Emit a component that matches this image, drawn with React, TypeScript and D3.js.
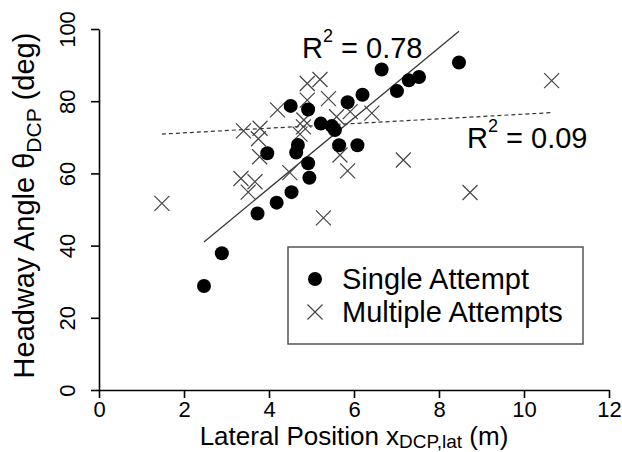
import React, { useRef, useEffect } from 'react';
import * as d3 from 'd3';

// single attempt (filled circles)
const singleX = [2.47, 2.89, 3.73, 4.18, 4.53, 4.95, 4.92, 3.96, 4.68, 4.64, 4.51, 4.92, 5.22, 5.48, 5.55, 5.65, 6.08, 5.85, 6.2, 6.65, 7.01, 7.29, 7.53, 8.47];
const singleY = [28.8, 37.9, 48.9, 51.9, 54.8, 58.8, 62.8, 65.6, 67.9, 65.8, 78.7, 77.7, 73.8, 73.1, 72.0, 67.8, 67.8, 79.7, 81.8, 88.8, 82.8, 85.8, 86.7, 90.7];

// multiple attempts (crosses)
const multiX = [1.48, 3.34, 3.67, 3.51, 3.78, 3.4, 3.79, 3.75, 4.2, 4.9, 5.2, 4.9, 5.4, 4.82, 4.81, 4.73, 4.49, 5.28, 5.67, 5.85, 5.59, 5.91, 6.42, 7.16, 8.73, 10.65];
const multiY = [51.7, 58.6, 57.7, 54.8, 64.6, 71.8, 72.5, 69.6, 77.6, 84.9, 86.0, 80.3, 80.7, 74.8, 72.9, 70.9, 60.2, 47.7, 65.1, 60.7, 75.7, 77.1, 76.7, 63.7, 54.7, 85.7];

// regression fits [intercept, slope]
const singleFit = [16.97, 9.73];
const multiFit = [69.93, 0.648];
const singleR2 = '0.78';
const multiR2 = '0.09';

const xTicks = [0, 2, 4, 6, 8, 10, 12];
const yTicks = [0, 20, 40, 60, 80, 100];
const legendLabels = ['Single Attempt', 'Multiple Attempts'];

const FONT = '"Liberation Sans", Arial, Helvetica, sans-serif';

const App = () => {
  const svgRef = useRef(null);

  useEffect(() => {
    const width = 622;
    const height = 452;
    const svg = d3.select(svgRef.current)
      .attr('width', width)
      .attr('height', height)
      .style('font-family', FONT);
    svg.selectAll('*').remove();

    const x = d3.scaleLinear().domain([0, 12]).range([99, 609]);
    const y = d3.scaleLinear().domain([0, 100]).range([390, 29]);

    // axes
    const xAxis = svg.append('g')
      .attr('transform', `translate(0, ${y(0)})`)
      .call(d3.axisBottom(x).tickValues(xTicks).tickSize(8).tickSizeOuter(0).tickFormat(d3.format('d')));
    const yAxis = svg.append('g')
      .attr('transform', `translate(${x(0)}, 0)`)
      .call(d3.axisLeft(y).tickValues(yTicks).tickSize(8).tickSizeOuter(0).tickFormat(d3.format('d')));

    [xAxis, yAxis].map((axis) => {
      axis.select('.domain').attr('stroke', '#000').attr('stroke-width', 1.6);
      axis.selectAll('.tick line').attr('stroke', '#000').attr('stroke-width', 1.6);
      axis.selectAll('.tick text')
        .attr('fill', '#000')
        .style('font-size', '22px')
        .style('font-family', FONT);
    });

    xAxis.selectAll('.tick text').attr('y', 27).attr('dy', 0);
    yAxis.selectAll('.tick text')
      .attr('transform', 'rotate(-90)')
      .attr('x', 0)
      .attr('y', -24)
      .attr('dy', 0)
      .attr('text-anchor', 'middle');

    // axis titles
    const xt = svg.append('text')
      .attr('x', (x(0) + x(12)) / 2)
      .attr('y', 445)
      .attr('text-anchor', 'middle')
      .style('font-size', '26px');
    xt.append('tspan').text('Lateral Position x');
    xt.append('tspan').attr('dy', 3).style('font-size', '19px').text('DCP,lat');
    xt.append('tspan').attr('dy', -3).text(' (m)');

    const yt = svg.append('text')
      .attr('transform', `translate(34, ${(y(0) + y(100)) / 2 - 4}) rotate(-90)`)
      .attr('text-anchor', 'middle')
      .style('font-size', '29px');
    yt.append('tspan').text('Headway Angle \u03b8');
    yt.append('tspan').attr('dy', 7).style('font-size', '21px').text('DCP');
    yt.append('tspan').attr('dy', -7).text(' (deg)');

    // regression lines
    const fitLine = (xs, fit, dash) => {
      const [x0, x1] = d3.extent(xs);
      svg.append('line')
        .attr('x1', x(x0)).attr('y1', y(fit[0] + fit[1] * x0))
        .attr('x2', x(x1)).attr('y2', y(fit[0] + fit[1] * x1))
        .attr('stroke', '#333')
        .attr('stroke-width', 1.2)
        .attr('stroke-dasharray', dash);
    };
    fitLine(singleX, singleFit, null);
    fitLine(multiX, multiFit, '4,3');

    const cross = (g, cx, cy) => {
      const s = 7.5;
      g.append('path')
        .attr('d', `M${cx - s},${cy - s}L${cx + s},${cy + s}M${cx - s},${cy + s}L${cx + s},${cy - s}`)
        .attr('stroke', '#444')
        .attr('stroke-width', 1.2)
        .attr('fill', 'none');
    };

    // points
    const crosses = svg.append('g');
    multiX.forEach((d, i) => cross(crosses, x(d), y(multiY[i])));

    svg.append('g')
      .selectAll('circle')
      .data(singleX)
      .enter().append('circle')
      .attr('cx', d => x(d))
      .attr('cy', (d, i) => y(singleY[i]))
      .attr('r', 7)
      .attr('fill', '#000');

    // R^2 labels
    const r2 = (tx, ty, val) => {
      const t = svg.append('text')
        .attr('x', tx)
        .attr('y', ty)
        .style('font-size', '29px');
      t.append('tspan').text('R');
      t.append('tspan').attr('dy', -16).style('font-size', '18px').text('2');
      t.append('tspan').attr('dy', 16).text(` = ${val}`);
    };
    r2(302, 58, singleR2);
    r2(467, 148, multiR2);

    // legend
    const lg = svg.append('g');
    lg.append('rect')
      .attr('x', 288).attr('y', 247)
      .attr('width', 295).attr('height', 97)
      .attr('fill', '#fff')
      .attr('stroke', '#555')
      .attr('stroke-width', 1.5);
    lg.append('circle').attr('cx', 315).attr('cy', 279).attr('r', 7).attr('fill', '#000');
    cross(lg, 315, 312);
    legendLabels.forEach((d, i) => {
      lg.append('text')
        .attr('x', 342)
        .attr('y', 289 + i * 33)
        .style('font-size', '29px')
        .text(d);
    });
  }, []);

  return <svg ref={svgRef} style={{ position: 'absolute', left: 0, top: 0 }}></svg>;
};

export default App;
